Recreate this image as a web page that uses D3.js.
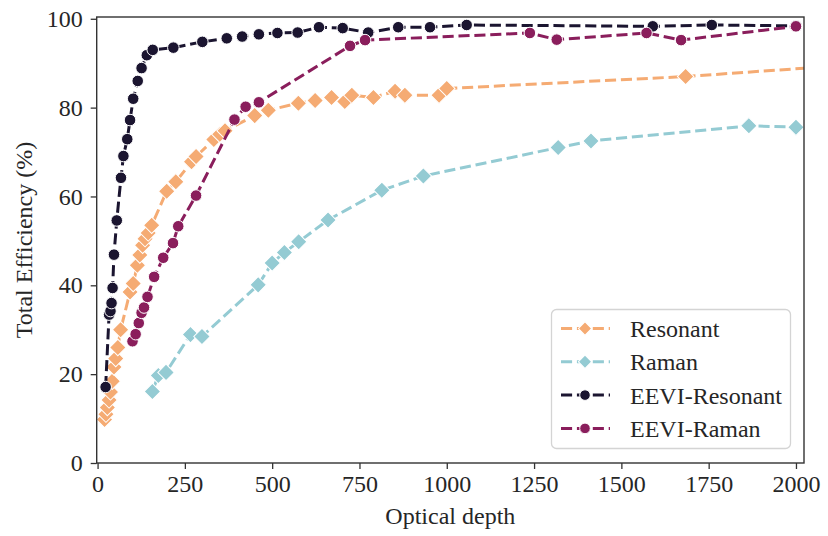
<!DOCTYPE html>
<html>
<head>
<meta charset="utf-8">
<script src="https://cdn.jsdelivr.net/npm/d3@7"></script>
<style>
  html, body { margin: 0; padding: 0; background: #fff; }
  svg { display: block; }
  text { font-family: "Liberation Serif", "DejaVu Serif", serif; }
</style>
</head>
<body>
<div id="chart"></div>
<script>
// ---- Data ----
const seriesNames = ["Resonant", "Raman", "EEVI-Resonant", "EEVI-Raman"];
const seriesColors = ["#F5AB73", "#94CBD3", "#1B1530", "#8A1E5C"];
const seriesMarkers = ["diamond", "diamond", "circle", "circle"];

const resonantDepth = [20, 24, 28, 33, 37, 42, 47, 52, 58, 66, 93, 102, 114, 121, 129, 136, 145, 155,
  198, 224, 269, 282, 333, 350, 365, 450, 489, 575, 623, 670, 708, 728, 790, 852, 880, 978, 1000, 1684, 2100];
const resonantEff = [9.8, 11.0, 12.5, 14.2, 16.0, 18.4, 21.6, 23.5, 26.0, 30.0, 38.5, 40.4, 44.5, 46.8, 49.0, 50.5, 51.8, 53.5,
  61.2, 63.3, 67.8, 69.0, 72.8, 74.0, 74.8, 78.2, 79.4, 81.0, 81.6, 82.3, 81.4, 82.8, 82.3, 83.7, 82.8, 82.8, 84.3, 87.0, 89.3];

const ramanDepth = [157, 174, 196, 266, 299, 460, 500, 535, 576, 660, 814, 933, 1319, 1413, 1865, 2000];
const ramanEff = [16.1, 19.7, 20.4, 28.9, 28.5, 40.1, 45.0, 47.4, 49.8, 54.7, 61.4, 64.6, 71.0, 72.5, 75.9, 75.6];

const eeviResonantDepth = [23, 33, 37, 40, 43, 47, 55, 67, 74, 85, 93, 102, 115, 126, 141, 158, 217, 300, 370, 414,
  462, 515, 573, 634, 702, 775, 861, 952, 1057, 1590, 1759, 2000];
const eeviResonantEff = [17.1, 33.4, 34.2, 36.0, 39.4, 46.9, 54.6, 64.2, 69.1, 72.9, 77.2, 82.0, 86.0, 88.9, 91.8, 93.0, 93.5, 94.8, 95.6, 96.0,
  96.5, 96.8, 96.9, 98.1, 97.9, 96.9, 98.1, 98.1, 98.6, 98.3, 98.6, 98.4];

const eeviRamanDepth = [100, 109, 118, 126, 133, 143, 162, 188, 216, 231, 282, 392, 424, 462, 723, 766, 1238, 1315, 1572, 1671, 2000];
const eeviRamanEff = [27.4, 29.0, 31.5, 33.8, 35.0, 37.4, 41.9, 46.2, 49.5, 53.3, 60.2, 77.3, 80.2, 81.2, 93.9, 95.2, 96.8, 95.3, 96.8, 95.2, 98.3];

const xTicks = [0, 250, 500, 750, 1000, 1250, 1500, 1750, 2000];
const yTicks = [0, 20, 40, 60, 80, 100];
const xLabel = "Optical depth";
const yLabel = "Total Efficiency (%)";

const seriesData = [
  resonantDepth.map((d, i) => ({x: d, y: resonantEff[i]})),
  ramanDepth.map((d, i) => ({x: d, y: ramanEff[i]})),
  eeviResonantDepth.map((d, i) => ({x: d, y: eeviResonantEff[i]})),
  eeviRamanDepth.map((d, i) => ({x: d, y: eeviRamanEff[i]}))
];

// ---- Layout ----
const W = 828, H = 536;
const mLeft = 96.7, mRight = 804, mTop = 17, mBottom = 463;
const FONT = 24;
const TEXT = "#262626";

const svg = d3.select("#chart").append("svg").attr("width", W).attr("height", H);
svg.append("rect").attr("width", W).attr("height", H).attr("fill", "#fff");

const x = d3.scaleLinear().domain([-2.5, 2023]).range([mLeft, mRight]);
const y = d3.scaleLinear().domain([0, 100.4]).range([mBottom, mTop]);

svg.append("clipPath").attr("id", "plotclip").append("rect")
  .attr("x", mLeft).attr("y", mTop).attr("width", mRight - mLeft).attr("height", mBottom - mTop);

// Axes
const xAxis = svg.append("g").attr("transform", `translate(0,${mBottom})`)
  .call(d3.axisBottom(x).tickValues(xTicks).tickFormat(d3.format("d")).tickSize(6).tickPadding(6));
const yAxis = svg.append("g").attr("transform", `translate(${mLeft},0)`)
  .call(d3.axisLeft(y).tickValues(yTicks).tickFormat(d3.format("d")).tickSize(6).tickPadding(8));
[xAxis, yAxis].forEach(g => {
  g.select(".domain").remove();
  g.selectAll(".tick line").attr("stroke", "#333").attr("stroke-width", 1.3);
  g.selectAll(".tick text").attr("fill", TEXT).attr("font-size", FONT)
    .attr("font-family", "'Liberation Serif', serif");
});

// Data layer
const plot = svg.append("g").attr("clip-path", "url(#plotclip)");
const line = d3.line().x(d => x(d.x)).y(d => y(d.y));
const diamond = d3.symbol().type(d3.symbolSquare).size(135);
const circle = d3.symbol().type(d3.symbolCircle).size(105);

seriesData.forEach((data, si) => {
  const g = plot.append("g");
  g.append("path").datum(data).attr("d", line)
    .attr("fill", "none").attr("stroke", seriesColors[si])
    .attr("stroke-width", 3).attr("stroke-dasharray", "11.1,4.8");
  const sym = seriesMarkers[si] === "diamond" ? diamond : circle;
  g.selectAll("path.m").data(data).enter().append("path").attr("class", "m")
    .attr("d", sym)
    .attr("transform", d => `translate(${x(d.x)},${y(d.y)})` + (seriesMarkers[si] === "diamond" ? " rotate(45)" : ""))
    .attr("fill", seriesColors[si]).attr("stroke", "#fff").attr("stroke-width", 1);
});

// Frame
svg.append("rect").attr("x", mLeft).attr("y", mTop).attr("width", mRight - mLeft).attr("height", mBottom - mTop)
  .attr("fill", "none").attr("stroke", "#333").attr("stroke-width", 1.4);

// Axis labels
svg.append("text").attr("x", (mLeft + mRight) / 2).attr("y", 524)
  .attr("text-anchor", "middle").attr("font-size", FONT).attr("fill", TEXT).text(xLabel);
svg.append("text").attr("transform", `translate(32,${(mTop + mBottom) / 2}) rotate(-90)`)
  .attr("text-anchor", "middle").attr("font-size", FONT).attr("fill", TEXT).text(yLabel);

// Legend
const lg = svg.append("g");
lg.append("rect").attr("x", 551.5).attr("y", 309.5).attr("width", 239).attr("height", 139)
  .attr("rx", 5).attr("fill", "#fff").attr("fill-opacity", 0.85)
  .attr("stroke", "#d4d4d4").attr("stroke-width", 1.3);
const legDiamond = d3.symbol().type(d3.symbolSquare).size(88);
const legCircle = d3.symbol().type(d3.symbolCircle).size(88);
seriesNames.forEach((name, i) => {
  const cy = 328.5 + i * 33.3;
  lg.append("line").attr("x1", 561).attr("x2", 610).attr("y1", cy).attr("y2", cy)
    .attr("stroke", seriesColors[i]).attr("stroke-width", 3).attr("stroke-dasharray", "11.1,4.8");
  lg.append("path").attr("d", seriesMarkers[i] === "diamond" ? legDiamond : legCircle)
    .attr("transform", `translate(585,${cy})` + (seriesMarkers[i] === "diamond" ? " rotate(45)" : ""))
    .attr("fill", seriesColors[i]).attr("stroke", "#fff").attr("stroke-width", 1);
  lg.append("text").attr("x", 630).attr("y", cy).attr("dy", "0.35em")
    .attr("font-size", FONT).attr("fill", TEXT).text(name);
});
</script>
</body>
</html>
